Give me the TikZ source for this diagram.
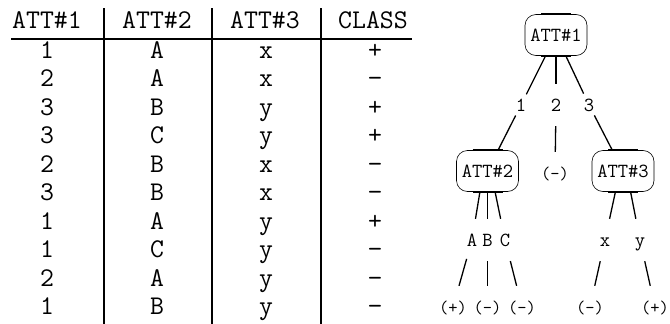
\documentclass[tikz,border=0pt]{standalone}
\usepackage{fontspec}
\usetikzlibrary{positioning}
\tikzset{every node/.style={font=\ttfamily}}

\begin{document}
\begin{tikzpicture}[x=1pt, y=-1pt]
    % Define styles
    \tikzstyle{cell} = [anchor=base, inner sep=0pt, font=\ttfamily\fontsize{27}{27}\selectfont]
    \tikzstyle{attbox} = [rectangle, rounded corners=11pt, minimum width=62pt, minimum height=41pt, inner sep=0pt, text centered, draw=black, line width=0.6pt, font=\ttfamily\fontsize{20}{20}\selectfont,
        append after command={([xshift=-15pt]\tikzlastnode.north) edge[line width=1.6pt] ([xshift=15pt]\tikzlastnode.north)
                              ([xshift=-15pt]\tikzlastnode.south) edge[line width=1.6pt] ([xshift=15pt]\tikzlastnode.south)}]
    \tikzstyle{arcval} = [minimum height=42pt, inner sep=0pt, text height=12pt, text depth=0pt, font=\ttfamily\fontsize{20}{20}\selectfont]
    \tikzstyle{leaf} = [minimum height=42pt, inner sep=0pt, text height=12pt, text depth=0pt, font=\ttfamily\fontsize{18}{18}\selectfont]
    \tikzstyle{branch} = [line width=1.3pt]
    \tikzstyle{rule} = [line width=1.8pt]

    \useasboundingbox (0,0) rectangle (670,324);

    % Table header
    \node (h1) [cell] at (47, 28) {ATT\#1};
    \node (h2) [cell] at (157, 28) {ATT\#2};
    \node (h3) [cell] at (265, 28) {ATT\#3};
    \node (h4) [cell] at (373, 28) {CLASS};

    % Table rules
    \draw [rule] (11, 39) -- (412, 39);
    \draw [rule] (104, 8) -- (104, 324);
    \draw [rule] (212, 8) -- (212, 324);
    \draw [rule] (321, 8) -- (321, 324);

    % Table rows
    \node (a1) [cell] at (47, 58) {1};    \node (b1) [cell] at (157, 58) {A};    \node (c1) [cell] at (266, 58) {x};    \node (d1) [cell] at (375, 58) {+};
    \node (a2) [cell] at (47, 86.5) {2};  \node (b2) [cell] at (157, 86.5) {A};  \node (c2) [cell] at (266, 86.5) {x};  \node (d2) [cell] at (375, 86.5) {−};
    \node (a3) [cell] at (47, 115) {3};   \node (b3) [cell] at (157, 115) {B};   \node (c3) [cell] at (266, 115) {y};   \node (d3) [cell] at (375, 115) {+};
    \node (a4) [cell] at (47, 143.5) {3}; \node (b4) [cell] at (157, 143.5) {C}; \node (c4) [cell] at (266, 143.5) {y}; \node (d4) [cell] at (375, 143.5) {+};
    \node (a5) [cell] at (47, 172) {2};   \node (b5) [cell] at (157, 172) {B};   \node (c5) [cell] at (266, 172) {x};   \node (d5) [cell] at (375, 172) {−};
    \node (a6) [cell] at (47, 200.5) {3}; \node (b6) [cell] at (157, 200.5) {B}; \node (c6) [cell] at (266, 200.5) {x}; \node (d6) [cell] at (375, 200.5) {−};
    \node (a7) [cell] at (47, 229) {1};   \node (b7) [cell] at (157, 229) {A};   \node (c7) [cell] at (266, 229) {y};   \node (d7) [cell] at (375, 229) {+};
    \node (a8) [cell] at (47, 257.5) {1}; \node (b8) [cell] at (157, 257.5) {C}; \node (c8) [cell] at (266, 257.5) {y}; \node (d8) [cell] at (375, 257.5) {−};
    \node (a9) [cell] at (47, 286) {2};   \node (b9) [cell] at (157, 286) {A};   \node (c9) [cell] at (266, 286) {y};   \node (d9) [cell] at (375, 286) {−};
    \node (a10) [cell] at (47, 314.5) {1};\node (b10) [cell] at (157, 314.5) {B};\node (c10) [cell] at (266, 314.5) {y};\node (d10) [cell] at (375, 314.5) {−};

    % Decision tree: root test
    \node (att1) [attbox] at (556, 35) {ATT\#1};
    \node (v1) [arcval] at (521, 105) {1};
    \node (v2) [arcval] at (556, 105) {2};
    \node (v3) [arcval] at (589, 105) {3};

    % Second level
    \node (att2) [attbox] at (487.5, 171) {ATT\#2};
    \node (mid) [leaf] at (555, 173) {(-)};
    \node (att3) [attbox] at (623, 171) {ATT\#3};

    \node (va) [arcval] at (472, 240) {A};
    \node (vb) [arcval] at (487.5, 240) {B};
    \node (vc) [arcval] at (505, 240) {C};
    \node (vx) [arcval] at (605, 240) {x};
    \node (vy) [arcval] at (640, 240) {y};

    % Leaves
    \node (la) [leaf] at (453, 307) {(+)};
    \node (lb) [leaf] at (487.5, 307) {(-)};
    \node (lc) [leaf] at (522, 307) {(-)};
    \node (lx) [leaf] at (590, 307) {(-)};
    \node (ly) [leaf] at (655, 307) {(+)};

    % Branches from the root
    \draw [branch] (att1) -- (v1);
    \draw [branch] (att1) -- (v2);
    \draw [branch] (att1) -- (v3);
    \draw [branch] (v1) -- (att2);
    \draw [branch] (v2) -- (mid);
    \draw [branch] (v3) -- (att3);

    % Branches of ATT#2 and ATT#3
    \draw [branch] (att2.250) -- (va);
    \draw [branch] (att2) -- (vb);
    \draw [branch] (att2.290) -- (vc);
    \draw [branch] (att3.250) -- (vx);
    \draw [branch] (att3.290) -- (vy);
    \draw [branch] (va) -- (la);
    \draw [branch] (vb) -- (lb);
    \draw [branch] (vc) -- (lc);
    \draw [branch] (vx) -- (lx);
    \draw [branch] (vy) -- (ly);
\end{tikzpicture}
\end{document}
